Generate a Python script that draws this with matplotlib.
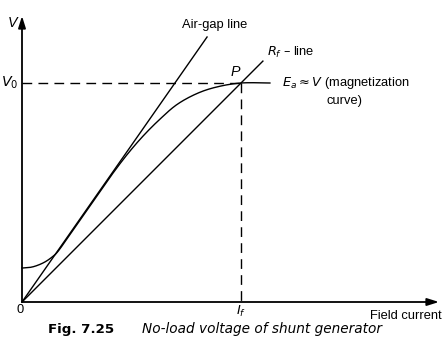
import numpy as np
import matplotlib
matplotlib.use('Agg')
import matplotlib.pyplot as plt

plt.rcParams['font.family'] = ['Liberation Sans', 'DejaVu Sans']

# field current normalised to I_f, voltage normalised to V0
mag_current = [0.0, 0.037, 0.070, 0.105, 0.137, 0.165, 0.219, 0.311, 0.402,
               0.479, 0.553, 0.630, 0.708, 0.799, 0.890, 1.0, 1.132]
mag_voltage = [0.155, 0.158, 0.167, 0.183, 0.205, 0.232, 0.308, 0.440, 0.570,
               0.672, 0.758, 0.835, 0.902, 0.952, 0.982, 1.0, 1.0]

airgap_slope = 1.432
airgap_end = 0.845
rf_slope = 1.0
rf_end = 1.10
I_f = 1.0
V0 = 1.0


def catmull_rom(px, py, n=20):
    px = np.concatenate([[px[0]], px, [px[-1]]])
    py = np.concatenate([[py[0]], py, [py[-1]]])
    xs, ys = [], []
    t = np.linspace(0, 1, n, endpoint=False)
    for i in range(1, len(px) - 2):
        for p, out in ((px, xs), (py, ys)):
            p0, p1, p2, p3 = p[i - 1], p[i], p[i + 1], p[i + 2]
            out.extend(0.5 * (2 * p1 + (-p0 + p2) * t
                              + (2 * p0 - 5 * p1 + 4 * p2 - p3) * t ** 2
                              + (-p0 + 3 * p1 - 3 * p2 + p3) * t ** 3))
    xs.append(px[-2])
    ys.append(py[-2])
    return np.array(xs), np.array(ys)


fig = plt.figure(figsize=(4.47, 3.52), dpi=100)
ax = fig.add_axes([0, 0, 1, 1])
# one unit = 219 px, origin at pixel (22, 302)
ax.set_xlim(-22 / 219, (447 - 22) / 219)
ax.set_ylim((302 - 352) / 219, 302 / 219)
ax.axis('off')

lw = 1.0
arrow = dict(arrowstyle='-|>,head_length=0.7,head_width=0.22', color='black', lw=1.3,
             shrinkA=0, shrinkB=0)
ax.annotate('', xy=(0, (302 - 16) / 219), xytext=(0, 0), arrowprops=arrow)
ax.annotate('', xy=((439 - 22) / 219, 0), xytext=(0, 0), arrowprops=arrow)

# air-gap line and R_f line
x = np.array([0, airgap_end])
ax.plot(x, airgap_slope * x, color='black', lw=lw)
x = np.array([0, rf_end])
ax.plot(x, rf_slope * x, color='black', lw=lw)

# magnetization curve
xs, ys = catmull_rom(np.array(mag_current), np.array(mag_voltage))
ax.plot(xs, ys, color='black', lw=lw)

# dashed guides
dash = dict(color='black', lw=lw, dashes=(7, 4.5))
ax.plot([0, I_f], [V0, V0], **dash)
ax.plot([I_f, I_f], [V0, 0], **dash)

fs = 9.3
ax.text(-0.045, 1.275, 'V', style='italic', fontsize=fs + 1, ha='center', va='center')
ax.text(-0.055, V0, '$V_0$', fontsize=fs + 1, ha='center', va='center')
ax.text(-0.01, -0.035, '0', fontsize=fs, ha='center', va='center')
ax.text(I_f, -0.045, '$I_f$', fontsize=fs, ha='center', va='center')
ax.text((442 - 22) / 219, -0.065, 'Field current', fontsize=fs, ha='right', va='center')
ax.text(0.88, 1.265, 'Air-gap line', fontsize=fs, ha='center', va='center')
ax.text(1.12, 1.14, '$R_f$ \u2013 line', fontsize=fs, ha='left', va='center')
ax.text(0.975, 1.05, 'P', style='italic', fontsize=fs + 1, ha='center', va='center')
ax.text(1.185, V0, '$E_a \\approx V$ (magnetization', fontsize=fs, ha='left', va='center')
ax.text(1.39, 0.92, 'curve)', fontsize=fs, ha='left', va='center')

cap_y = (352 - 329) / 352
ax.text(48 / 447, cap_y, 'Fig. 7.25', transform=fig.transFigure,
        fontsize=9.6, fontweight='bold', family='DejaVu Sans', ha='left', va='center')
ax.text(142 / 447, cap_y, 'No-load voltage of shunt generator',
        transform=fig.transFigure, fontsize=9.8, style='italic', family='DejaVu Sans',
        ha='left', va='center')

fig.savefig('out.png', dpi=100)
